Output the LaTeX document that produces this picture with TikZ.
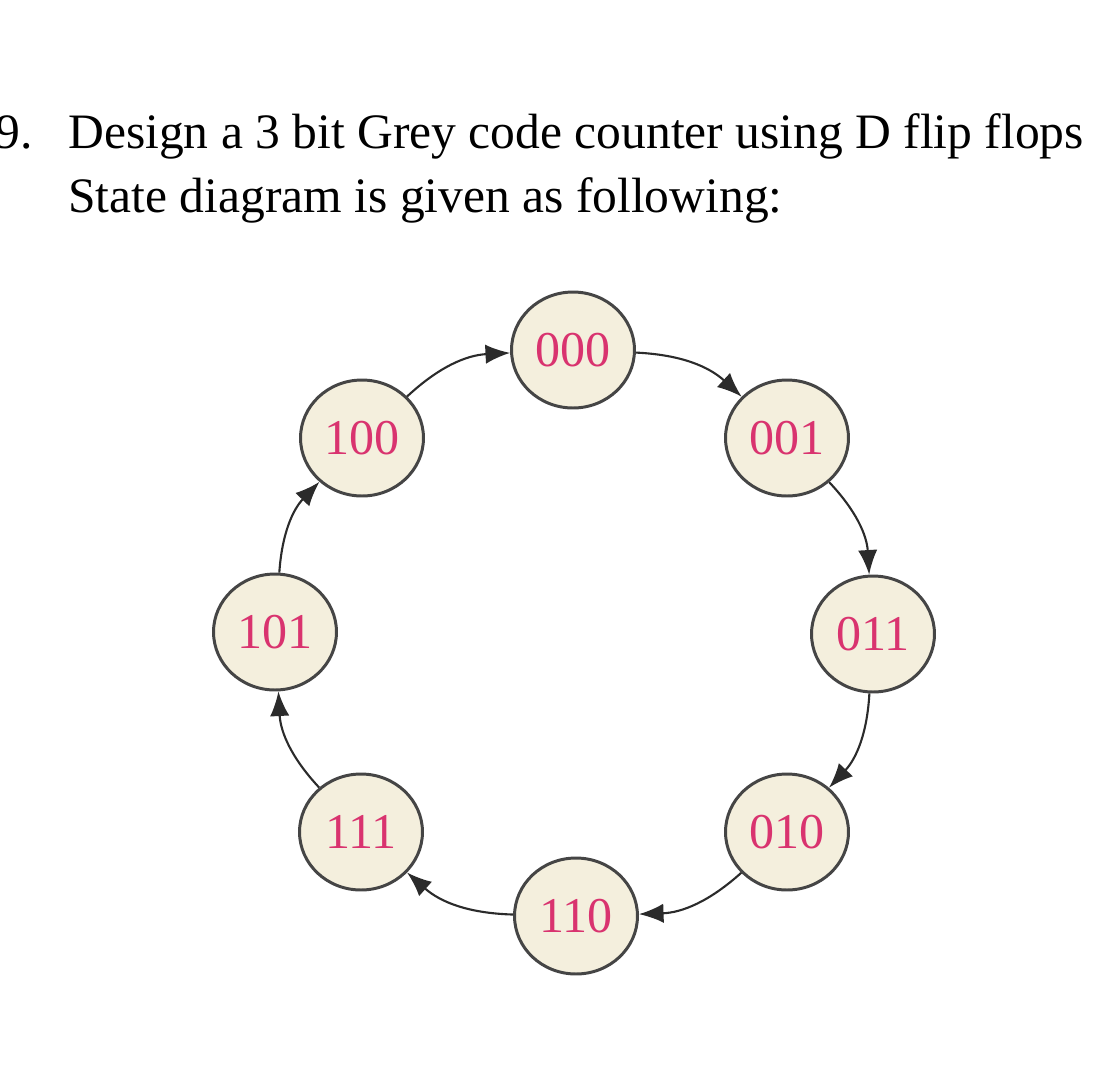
\documentclass[tikz,border=0pt]{standalone}
\usepackage{fontspec}
\setmainfont{Liberation Serif}
\usepackage{xcolor}
\usepackage{tikz}
\usetikzlibrary{arrows.meta,shapes.geometric}
\definecolor{crema}{HTML}{F4EFDD}
\definecolor{rosa}{HTML}{D9336F}
\definecolor{borde}{HTML}{454545}
\definecolor{tinta}{HTML}{2B2B2B}
\begin{document}
\begin{tikzpicture}[x=0.02cm,y=-0.02cm, st/.style={ellipse,draw=borde,line width=1.7pt,fill=crema,text=rosa,minimum width=2.46cm,minimum height=2.32cm,inner sep=0pt,font=\fontsize{28.5}{30}\selectfont}, flecha/.style={-{Latex[length=14pt,width=11pt]},draw=tinta,line width=1.2pt}, txt/.style={anchor=base west,inner sep=0pt,font=\fontsize{28.2}{34}\selectfont}]
\useasboundingbox (0,0) rectangle (1120,1080);
\node[txt] (num) at (-5,148) {9.};
\node[txt] (l1) at (68,148) {Design a 3 bit Grey code counter using D flip flops};
\node[txt] (l2) at (68,212) {State diagram is given as following:};
\node[st] (s000) at (573,350) {000};
\node[st] (s001) at (787,438) {001};
\node[st] (s011) at (873,634) {011};
\node[st] (s010) at (787,832) {010};
\node[st] (s110) at (576,916) {110};
\node[st] (s111) at (361,832) {111};
\node[st] (s101) at (275,632) {101};
\node[st] (s100) at (362,438) {100};
\draw[flecha] (s000) to[bend left=20] (s001); \draw[flecha] (s001) to[bend left=20] (s011);
\draw[flecha] (s011) to[bend left=20] (s010); \draw[flecha] (s010) to[bend left=20] (s110);
\draw[flecha] (s110) to[bend left=20] (s111); \draw[flecha] (s111) to[bend left=20] (s101);
\draw[flecha] (s101) to[bend left=20] (s100); \draw[flecha] (s100) to[bend left=20] (s000);
\end{tikzpicture}
\end{document}
